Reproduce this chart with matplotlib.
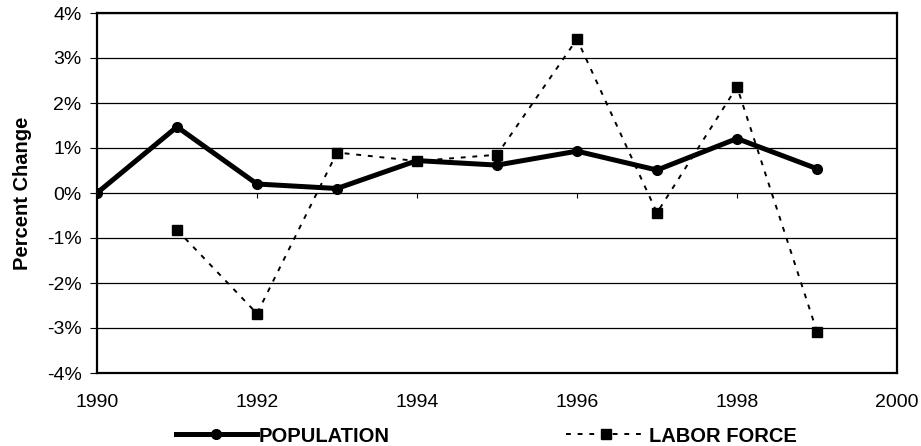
import matplotlib
matplotlib.use("Agg")
import matplotlib.pyplot as plt
from matplotlib.lines import Line2D
from matplotlib.ticker import FuncFormatter

years = [1990, 1991, 1992, 1993, 1994, 1995, 1996, 1997, 1998, 1999]
population = [0.0, 1.47, 0.2, 0.1, 0.72, 0.62, 0.93, 0.51, 1.21, 0.54]
labor_years = [1991, 1992, 1993, 1994, 1995, 1996, 1997, 1998, 1999]
labor_force = [-0.82, -2.68, 0.9, 0.71, 0.85, 3.42, -0.44, 2.36, -3.08]
x_ticks = [1990, 1992, 1994, 1996, 1998, 2000]
y_ticks = [-4, -3, -2, -1, 0, 1, 2, 3, 4]

plt.rcParams['font.family'] = ['Liberation Sans', 'DejaVu Sans']

fig = plt.figure(figsize=(9.21, 4.46), dpi=100)
ax = fig.add_axes([97/921, 1-373/446, 800/921, 360/446])

for y in y_ticks:
    ax.axhline(y, color='black', lw=0.9, zorder=1)

pop_style = dict(color='black', lw=3.6, marker='o', ms=7)
lab_style = dict(color='black', lw=1.4, ls=(0, (2.5, 3.5)), marker='s', ms=7)

ax.plot(years, population, zorder=3, **pop_style)
ax.plot(labor_years, labor_force, zorder=3, **lab_style)

# tick marks on the zero axis
ax.vlines(x_ticks[1:-1], 0, -0.12, color='black', lw=0.8, zorder=2)

ax.set_xlim(1990, 2000)
ax.set_ylim(-4, 4)
ax.set_xticks(x_ticks)
ax.set_yticks(y_ticks)
ax.yaxis.set_major_formatter(FuncFormatter(lambda v, p: f"{int(v)}%"))
ax.tick_params(axis='x', length=0, pad=15, labelsize=14)
ax.tick_params(axis='y', length=5, direction='out', labelsize=14, width=0.8, pad=6)
for s in ax.spines.values():
    s.set_linewidth(1.6)
    s.set_color('black')

ax.set_ylabel('Percent Change', fontsize=14.5, fontweight='bold', labelpad=11)

h1 = Line2D([], [], **pop_style)
h2 = Line2D([], [], **lab_style)
common = dict(loc='center left', frameon=False, handlelength=4.0, handletextpad=0.1,
              borderpad=0, borderaxespad=0, prop={'weight': 'bold', 'size': 14.5})
fig.legend([h1], ['POPULATION'], bbox_to_anchor=(176/921, 1-436/446), **common)
fig.legend([h2], ['LABOR FORCE'], bbox_to_anchor=(566/921, 1-436/446), **common)

fig.savefig('out.png', dpi=100)
